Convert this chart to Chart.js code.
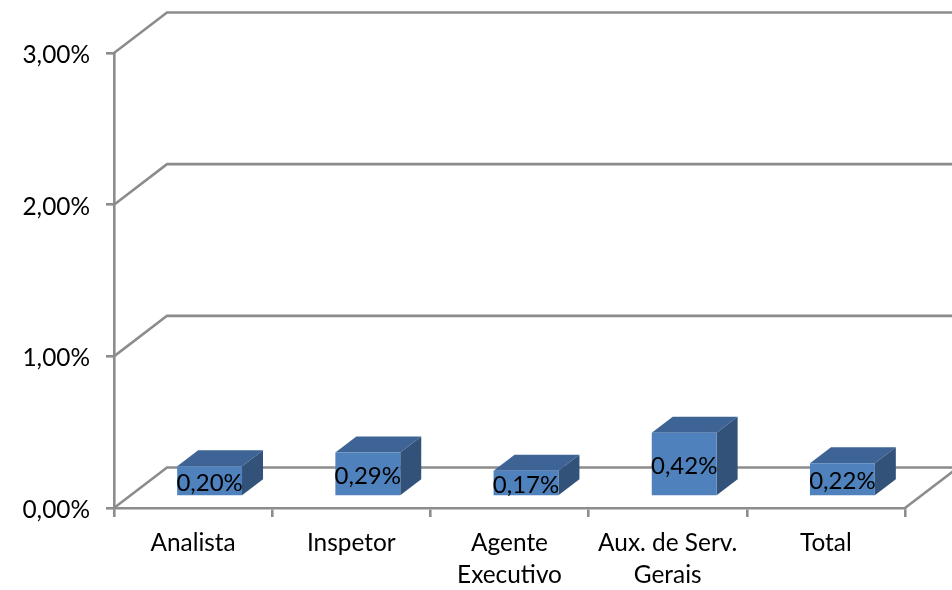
<!DOCTYPE html>
<html><head><meta charset="utf-8">
<script src="https://cdn.jsdelivr.net/npm/chart.js@4"></script>
<style>html,body{margin:0;padding:0;background:#fff}canvas{display:block}</style>
</head><body><canvas id="c" width="952" height="590"></canvas>
<script>
const categories = ['Analista','Inspetor',['Agente','Executivo'],['Aux. de Serv.','Gerais'],'Total'];
const values = [0.20,0.29,0.17,0.42,0.22];
const valueLabels = ['0,20%','0,29%','0,17%','0,42%','0,22%'];
const tickLabels = ['0,00%','1,00%','2,00%','3,00%'];

const FONT = 'Lato';
const LINE = '#8c8c8c';
const LW = 2.6;
const WALL = {dx:53, dy:40.5};
const FRONT = {dx:16.5, dy:11.5};
const BAR_DEPTH = {dx:21, dy:16};

const scene = {
  id:'scene',
  beforeDatasetsDraw(chart){
    const {ctx,scales:{x,y}} = chart;
    const L=x.left,R=x.right,B=y.bottom;
    ctx.save();
    ctx.strokeStyle=LINE; ctx.lineWidth=LW; ctx.lineCap='square';
    y.ticks.forEach(t=>{
      const py=y.getPixelForValue(t.value);
      ctx.beginPath();
      ctx.moveTo(L,py);
      ctx.lineTo(L+WALL.dx,py-WALL.dy);
      ctx.lineTo(R+WALL.dx+10,py-WALL.dy);
      ctx.stroke();
    });
    ctx.beginPath();
    ctx.moveTo(R,B);ctx.lineTo(R+WALL.dx,B-WALL.dy);
    ctx.stroke();
    ctx.restore();
    // side and top faces of every bar, then shift the fronts
    const meta=chart.getDatasetMeta(0);
    ctx.save();
    ctx.translate(FRONT.dx,-FRONT.dy);
    meta.data.forEach(b=>{
      const x1=b.x-b.width/2,x2=b.x+b.width/2,t=b.y,bt=b.base;
      ctx.fillStyle='#3e6495';
      ctx.beginPath();ctx.moveTo(x1,t);ctx.lineTo(x1+BAR_DEPTH.dx,t-BAR_DEPTH.dy);
      ctx.lineTo(x2+BAR_DEPTH.dx,t-BAR_DEPTH.dy);ctx.lineTo(x2,t);ctx.closePath();ctx.fill();
      ctx.fillStyle='#335279';
      ctx.beginPath();ctx.moveTo(x2,t);ctx.lineTo(x2+BAR_DEPTH.dx,t-BAR_DEPTH.dy);
      ctx.lineTo(x2+BAR_DEPTH.dx,bt-BAR_DEPTH.dy);ctx.lineTo(x2,bt);ctx.closePath();ctx.fill();
    });
  },
  afterDatasetsDraw(chart){
    const {ctx}=chart;
    ctx.restore();
    const meta=chart.getDatasetMeta(0);
    ctx.save();
    ctx.fillStyle='#000';
    ctx.font='24px '+FONT;
    ctx.textAlign='center';ctx.textBaseline='middle';
    meta.data.forEach((b,i)=>{
      ctx.fillText(valueLabels[i],b.x+FRONT.dx,(b.y+b.base)/2-FRONT.dy+2.5);
    });
    ctx.restore();
  }
};

new Chart(document.getElementById('c'),{
  type:'bar',
  data:{labels:categories,datasets:[{data:values,backgroundColor:'#4f81bd',borderWidth:0,
    barPercentage:0.41,categoryPercentage:1}]},
  plugins:[scene],
  options:{
    responsive:false,animation:false,
    layout:{padding:{top:53,right:47,left:0,bottom:0}},
    plugins:{legend:{display:false},tooltip:{enabled:false},title:{display:false}},
    scales:{
      x:{
        afterFit(s){s.height=82;},
        grid:{drawOnChartArea:false,drawTicks:true,tickLength:9,color:LINE,lineWidth:LW},
        border:{display:true,color:LINE,width:LW},
        ticks:{color:'#000',font:{family:FONT,size:24.4,lineHeight:1.31},padding:10,maxRotation:0,autoSkip:false}
      },
      y:{
        min:0,max:3,
        afterFit(s){
          s.width=114;
          if(!s._shifted){
            s._shifted=true;
            const draw=s.drawLabels;
            s.drawLabels=function(a){const c=this.ctx;c.save();c.translate(0,2);draw.call(this,a);c.restore();};
          }
        },
        grid:{drawOnChartArea:false,drawTicks:true,tickLength:8,color:LINE,lineWidth:LW},
        border:{display:true,color:LINE,width:LW},
        ticks:{color:'#000',font:{family:FONT,size:24.4},padding:16,stepSize:1,
          callback:(v,i)=>tickLabels[i]}
      }
    }
  }
});
</script></body></html>
